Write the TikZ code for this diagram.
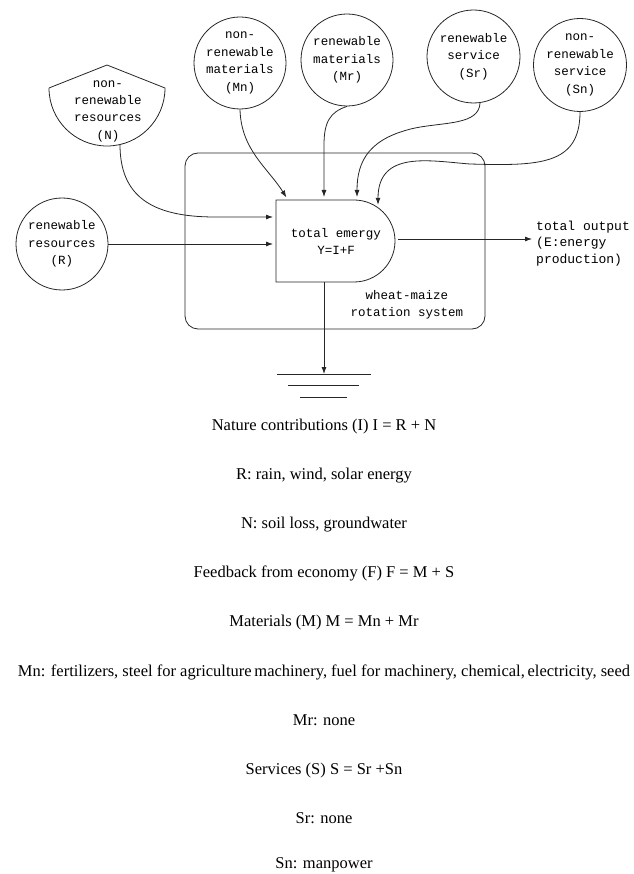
\documentclass[tikz,border=0pt]{standalone}
\usepackage{fontspec}
\setmainfont{Liberation Serif}
\newfontfamily\monof{Liberation Mono}
\usetikzlibrary{arrows.meta}
\tikzset{
  ln/.style={line width=0.8pt, draw=black!85},
  arr/.style={ln, -{Latex[length=7pt,width=5pt]}, shorten >=3pt},
  src/.style={circle, ln, inner sep=0pt, minimum size=92pt, align=center,
    font=\monof\fontsize{12.5}{17.5}\selectfont},
  lbl/.style={inner sep=0pt, align=center, font=\monof\fontsize{12.5}{17}\selectfont},
  note/.style={inner sep=0pt, anchor=base, font=\fontsize{16.5}{19}\selectfont}
}
\begin{document}
\begin{tikzpicture}[x=1pt,y=-1pt]
\useasboundingbox (0,0) rectangle (633,874);

% system box
\node[ln, draw, rounded corners=13pt, minimum width=300pt, minimum height=176pt, inner sep=0pt] (sys) at (335,241) {};

% sources
\node[src] (R) at (62,244) {renewable\\resources\\(R)};
\node[src] (Mn) at (240,63) {non-\\renewable\\materials\\(Mn)};
\node[src] (Mr) at (347,60) {renewable\\materials\\(Mr)};
\node[src, minimum size=93pt] (Sr) at (473.5,56.5) {renewable\\service\\(Sr)};
\node[src, minimum size=93pt] (Sn) at (580,65) {non-\\renewable\\service\\(Sn)};

% non-renewable resources (N): roof + semicircle
\draw[ln] (49,88) -- (107,65) -- (165,88) arc[start angle=0, end angle=-180, radius=58pt];
\node[lbl, font=\monof\fontsize{12.5}{17.3}\selectfont] (N) at (108,111) {non-\\renewable\\resources\\(N)};
\coordinate (Nout) at (120,144.5);

% total emergy shape
\draw[ln] (276,200) -- (354,200) arc[start angle=90, end angle=-90, radius=41pt] -- (276,282) -- cycle;
\node[lbl] (Y) at (336,241) {total emergy\\Y=I+F};
\coordinate (inN) at (276,217);
\coordinate (inR) at (276,244);
\coordinate (inMn) at (288,200);
\coordinate (inMr) at (324,200);
\coordinate (inSr) at (357,200);
\coordinate (inSn) at (378,207.8);
\coordinate (Yout) at (398,239);
\coordinate (Ybot) at (324,282);

% output
\node[inner sep=0pt, anchor=west, align=left, font=\monof\fontsize{13}{16.5}\selectfont] (out) at (536,243.5) {total output\\(E:energy\\production)};
\coordinate (outIn) at (535,239);

% system label
\node[lbl] (sysl) at (407,304.5) {wheat-maize\\rotation system};

% connectors
\draw[arr] (Nout) .. controls (120,195) and (150,217) .. (215,217) -- (inN);
\draw[arr] (R.east) -- (inR);
\draw[arr] (Mn.south) .. controls (241,150) and (268,168) .. (inMn);
\draw[arr] (Mr.south) .. controls (330,112) and (324,122) .. (324,145) -- (inMr);
\draw[arr] (Sr.-82) .. controls (479,125) and (445,122) .. (415,128) .. controls (370,138) and (357,160) .. (inSr);
\draw[arr] (Sn.south) .. controls (580,165) and (540,166) .. (470,164) .. controls (430,161) and (378,150) .. (inSn);
\draw[arr] (Yout) -- (outIn);

% ground
\coordinate (g1) at (324,374);
\draw[ln] (277,374) -- (371,374);
\draw[ln] (288,385.5) -- (359,385.5);
\draw[ln] (300,397) -- (347,397);
\draw[ln, -{Latex[length=7pt,width=5pt]}] (Ybot) -- (g1);

% notes
\node[note] (t1) at (324,430) {Nature contributions (I) I = R + N};
\node[note] (t2) at (324,479.2) {R: rain, wind, solar energy};
\node[note] (t3) at (324,528.4) {N: soil loss, groundwater};
\node[note] (t4) at (324,577.6) {Feedback from economy (F) F = M + S};
\node[note] (t5) at (324,626.8) {Materials (M) M = Mn + Mr};
\node[note] (t6) at (324,676) {Mn: fertilizers, steel for agriculture\thinspace machinery, fuel for machinery, chemical,\thinspace electricity, seed};
\node[note] (t7) at (324,725.2) {Mr: none};
\node[note] (t8) at (324,774.4) {Services (S) S = Sr +Sn};
\node[note] (t9) at (324,823.2) {Sr: none};
\node[note] (t10) at (324,868.5) {Sn: manpower};
\end{tikzpicture}
\end{document}
